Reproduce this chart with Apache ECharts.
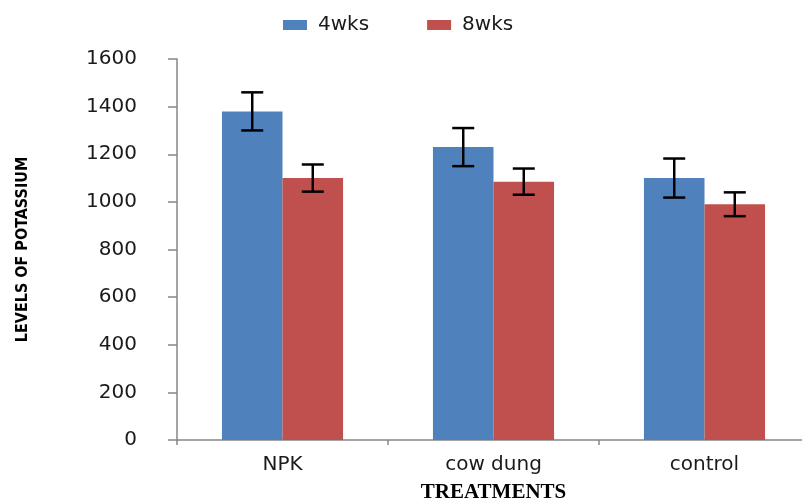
<!DOCTYPE html>
<html>
<head>
<meta charset="utf-8">
<script src="https://cdn.jsdelivr.net/npm/echarts@6/dist/echarts.min.js"></script>
<style>
html,body{margin:0;padding:0;background:#fff;}
#chart{width:802px;height:500px;}
</style>
</head>
<body>
<div id="chart"></div>
<script>
const categories = ['NPK', 'cow dung', 'control'];
const seriesNames = ['4wks', '8wks'];
const wks4 = [1380, 1230, 1100];
const wks8 = [1100, 1085, 990];
const err4 = [80, 80, 82];
const err8 = [57, 55, 50];
const yTicks = [0, 200, 400, 600, 800, 1000, 1200, 1400, 1600];

const CAT_GAP = 0.426;
const chart = echarts.init(document.getElementById('chart'), null, {renderer: 'canvas'});

function errData(vals, errs) {
  return vals.map((v, i) => [i, v, errs[i]]);
}
function makeRender(side) {
  return function (params, api) {
    const idx = api.value(0), v = api.value(1), e = api.value(2);
    const band = api.size([1, 0])[0];
    const bw = band * (1 - CAT_GAP) / 2;
    const cx = api.coord([idx, v])[0] + side * bw / 2;
    const yt = api.coord([idx, v + e])[1];
    const yb = api.coord([idx, v - e])[1];
    const cap = 11;
    const st = {stroke: '#000', lineWidth: 2.5};
    return {
      type: 'group',
      children: [
        {type: 'line', shape: {x1: cx, y1: yt, x2: cx, y2: yb}, style: st},
        {type: 'line', shape: {x1: cx - cap, y1: yt, x2: cx + cap, y2: yt}, style: st},
        {type: 'line', shape: {x1: cx - cap, y1: yb, x2: cx + cap, y2: yb}, style: st}
      ]
    };
  };
}

const labelFont = {fontFamily: 'DejaVu Sans', fontSize: 20, color: '#1a1a1a'};

chart.setOption({
  animation: false,
  color: ['#4F81BD', '#C0504D'],
  legend: {
    data: seriesNames,
    top: 10,
    left: 278,
    itemWidth: 24,
    itemHeight: 10,
    itemGap: 58,
    icon: 'rect',
    textStyle: Object.assign({}, labelFont, {padding: [0, 0, 0, 6]})
  },
  grid: {left: 177, top: 59, width: 633, height: 381, outerBoundsMode: 'none'},
  xAxis: {
    type: 'category',
    data: categories,
    axisLine: {lineStyle: {color: '#868686', width: 1.5}},
    axisTick: {show: true, length: 5, lineStyle: {color: '#868686', width: 1.5}},
    axisLabel: Object.assign({}, labelFont, {margin: 15}),
    name: 'TREATMENTS',
    nameLocation: 'middle',
    nameGap: 42,
    nameTextStyle: {fontFamily: 'Liberation Serif', fontWeight: 'bold', fontSize: 21, color: '#000'}
  },
  yAxis: {
    type: 'value',
    min: yTicks[0],
    max: yTicks[yTicks.length - 1],
    interval: 200,
    axisLine: {show: true, lineStyle: {color: '#868686', width: 1.5}},
    axisTick: {show: true, length: 9, lineStyle: {color: '#868686', width: 1.5}},
    splitLine: {show: false},
    axisLabel: Object.assign({}, labelFont, {margin: 40, formatter: function (v) { return String(v); }}),
    name: 'LEVELS OF POTASSIUM',
    nameLocation: 'middle',
    nameRotate: 90,
    nameGap: 146,
    nameTextStyle: {fontFamily: '"DejaVu Sans Condensed", "Liberation Sans", sans-serif', fontWeight: 'bold', fontSize: 16, color: '#000'}
  },
  series: [
    {name: seriesNames[0], type: 'bar', data: wks4, barGap: '0%', barCategoryGap: (CAT_GAP * 100) + '%'},
    {name: seriesNames[1], type: 'bar', data: wks8, barGap: '0%', barCategoryGap: (CAT_GAP * 100) + '%'},
    {type: 'custom', data: errData(wks4, err4), renderItem: makeRender(-1), z: 10, silent: true},
    {type: 'custom', data: errData(wks8, err8), renderItem: makeRender(1), z: 10, silent: true}
  ]
});
</script>
</body>
</html>
